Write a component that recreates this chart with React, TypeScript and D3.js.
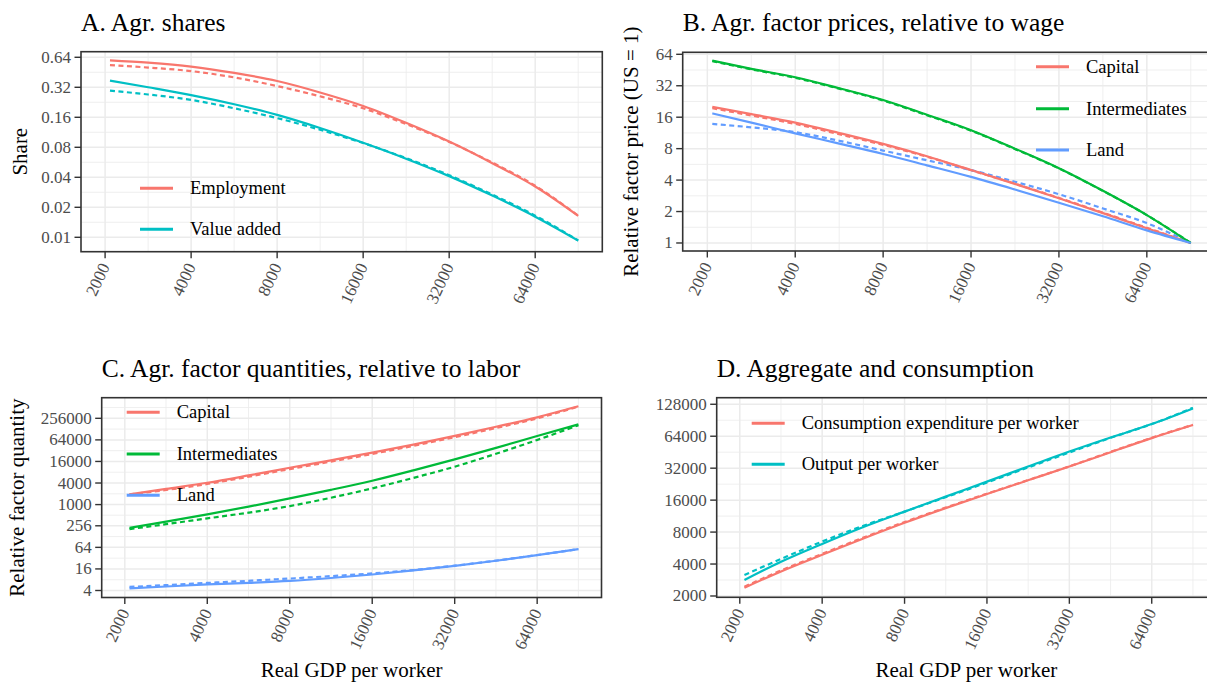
import React from 'react';
import * as d3 from 'd3';

// real GDP per worker (x positions shared by every panel)
const gdp = [2080, 2830, 4000, 5660, 8000, 11300, 16000, 22600, 32000, 45300, 64000, 90500];

// A. Agr. shares
const employment = [0.597, 0.565, 0.516, 0.446, 0.370, 0.284, 0.208, 0.141, 0.0913, 0.0554, 0.0323, 0.0164];
const employmentDot = [0.534, 0.505, 0.465, 0.402, 0.329, 0.260, 0.197, 0.137, 0.0906, 0.0562, 0.0329, 0.0165];
const valueAdded = [0.373, 0.320, 0.267, 0.216, 0.169, 0.125, 0.0888, 0.0615, 0.0411, 0.0262, 0.0161, 0.00927];
const valueAddedDot = [0.296, 0.271, 0.239, 0.197, 0.157, 0.120, 0.0882, 0.0623, 0.0420, 0.0268, 0.0165, 0.0093];

// B. factor prices relative to wage
const priceCapital = [20.1, 17.1, 14.2, 11.3, 8.88, 6.77, 4.99, 3.68, 2.68, 1.93, 1.385, 1.0];
const priceCapitalDot = [19.5, 16.6, 13.8, 11.0, 8.70, 6.70, 4.97, 3.70, 2.70, 1.95, 1.40, 1.0];
const priceInter = [55.7, 46.5, 38.6, 30.3, 23.4, 16.9, 12.0, 8.0, 5.2, 3.16, 1.85, 1.0];
const priceInterDot = [55.0, 46.0, 38.1, 30.0, 23.1, 16.7, 11.9, 7.95, 5.17, 3.15, 1.85, 1.0];
const priceLand = [17.4, 14.2, 11.2, 8.94, 7.11, 5.54, 4.29, 3.25, 2.43, 1.80, 1.32, 1.0];
const priceLandDot = [13.8, 12.8, 11.5, 9.51, 7.67, 6.19, 4.99, 3.86, 2.93, 2.14, 1.55, 1.0];

// C. factor quantities relative to labor
const qtyCapital = [1924, 2740, 4068, 6515, 10660, 17190, 28140, 47300, 82400, 148500, 273000, 554000];
const qtyCapitalDot = [1924, 2560, 3760, 6000, 9800, 15800, 25900, 43600, 76000, 137000, 255000, 545000];
const qtyInter = [224, 333, 534, 879, 1489, 2574, 4640, 9030, 18300, 38200, 82400, 174000];
const qtyInterDot = [206, 284, 413, 596, 910, 1552, 2837, 5557, 11420, 26250, 63700, 163500];
const qtyLand = [4.56, 5.17, 5.90, 6.54, 7.41, 8.94, 11.2, 14.5, 19.4, 27.1, 38.9, 56.9];
const qtyLandDot = [5.03, 5.66, 6.50, 7.46, 8.63, 10.06, 11.96, 14.9, 19.7, 27.3, 39.1, 57.3];

// D. aggregate and consumption
const consumption = [2395, 3410, 4890, 6960, 9780, 13450, 18250, 24590, 33130, 45250, 61400, 81560];
const consumptionDot = [2450, 3480, 4990, 7100, 9950, 13600, 18400, 24700, 33300, 45600, 61900, 82000];
const output = [2828, 4200, 6190, 8940, 12470, 17270, 23920, 33130, 45880, 62240, 83280, 116980];
const outputDot = [3160, 4470, 6520, 9180, 12470, 17030, 23420, 32450, 44940, 61800, 83300, 118600];

// axes
const xTicks = [2000, 4000, 8000, 16000, 32000, 64000];
const xTickLabels = ['2000', '4000', '8000', '16000', '32000', '64000'];
const shareTicks = [0.01, 0.02, 0.04, 0.08, 0.16, 0.32, 0.64];
const shareTickLabels = ['0.01', '0.02', '0.04', '0.08', '0.16', '0.32', '0.64'];
const priceTicks = [1, 2, 4, 8, 16, 32, 64];
const priceTickLabels = ['1', '2', '4', '8', '16', '32', '64'];
const qtyTicks = [4, 16, 64, 256, 1000, 4000, 16000, 64000, 256000];
const qtyTickLabels = ['4', '16', '64', '256', '1000', '4000', '16000', '64000', '256000'];
const aggTicks = [2000, 4000, 8000, 16000, 32000, 64000, 128000];
const aggTickLabels = ['2000', '4000', '8000', '16000', '32000', '64000', '128000'];

const RED = '#F8766D';
const TEAL = '#00BFC4';
const GREEN = '#00BA38';
const BLUE = '#619CFF';
const FONT = '"Liberation Serif", "Times New Roman", serif';
const xDomain: [number, number] = [1647, 109900];

interface Series { values: number[]; color: string; dotted?: boolean }
interface LegendItem { label: string; color: string }

// minor breaks halfway between majors on the log scale
function minorBreaks(majors: number[], domain: [number, number]) {
  const out: number[] = [];
  const n = majors.length;
  out.push(majors[0] / Math.sqrt(majors[1] / majors[0]));
  for (let i = 0; i < n - 1; i++) out.push(Math.sqrt(majors[i] * majors[i + 1]));
  out.push(majors[n - 1] * Math.sqrt(majors[n - 1] / majors[n - 2]));
  return out.filter((v) => v > domain[0] && v < domain[1]);
}

interface PanelProps {
  title: string;
  left: number; right: number; top: number; bottom: number;
  yDomain: [number, number];
  yTicks: number[]; yTickLabels: string[];
  yTitle?: string; yTitleX?: number;
  xTitle?: string;
  series: Series[];
  legend: LegendItem[];
  legendX: number; legendYs: number[];
}

const Panel = (p: PanelProps) => {
  const x = d3.scaleLog().domain(xDomain).range([p.left, p.right]);
  const y = d3.scaleLog().domain(p.yDomain).range([p.bottom, p.top]);
  const line = d3
    .line<number>()
    .x((_, i) => x(gdp[i]))
    .y((d) => y(d))
    .curve(d3.curveMonotoneX);
  const xMinor = minorBreaks(xTicks, xDomain);
  const yMinor = minorBreaks(p.yTicks, p.yDomain);
  const tickLen = 6.5;
  const cx = (p.left + p.right) / 2;
  const cy = (p.top + p.bottom) / 2;

  return (
    <g>
      <text x={p.left} y={p.top - 21} fontFamily={FONT} fontSize={25.5} fill="#000">
        {p.title}
      </text>
      <rect x={p.left} y={p.top} width={p.right - p.left} height={p.bottom - p.top} fill="#fff" />
      {/* grid */}
      {xMinor.map((v) => (
        <line key={'xm' + v} x1={x(v)} x2={x(v)} y1={p.top} y2={p.bottom} stroke="#EBEBEB" strokeWidth={0.8} />
      ))}
      {yMinor.map((v) => (
        <line key={'ym' + v} x1={p.left} x2={p.right} y1={y(v)} y2={y(v)} stroke="#EBEBEB" strokeWidth={0.8} />
      ))}
      {xTicks.map((v) => (
        <line key={'xg' + v} x1={x(v)} x2={x(v)} y1={p.top} y2={p.bottom} stroke="#EBEBEB" strokeWidth={1.5} />
      ))}
      {p.yTicks.map((v) => (
        <line key={'yg' + v} x1={p.left} x2={p.right} y1={y(v)} y2={y(v)} stroke="#EBEBEB" strokeWidth={1.5} />
      ))}
      {/* series */}
      {p.series.map((s, i) => (
        <path
          key={'s' + i}
          d={line(s.values) || ''}
          fill="none"
          stroke={s.color}
          strokeWidth={2.2}
          strokeDasharray={s.dotted ? '5,3.5' : undefined}
        />
      ))}
      {/* legend */}
      {p.legend.map((l, i) => (
        <g key={'l' + i}>
          <line x1={p.legendX} x2={p.legendX + 33} y1={p.legendYs[i]} y2={p.legendYs[i]} stroke={l.color} strokeWidth={3} />
          <text x={p.legendX + 50} y={p.legendYs[i]} dominantBaseline="central" fontFamily={FONT} fontSize={18.5} fill="#000">
            {l.label}
          </text>
        </g>
      ))}
      <rect x={p.left} y={p.top} width={p.right - p.left} height={p.bottom - p.top} fill="none" stroke="#333" strokeWidth={1.6} />
      {/* y axis */}
      {p.yTicks.map((v, i) => (
        <g key={'yt' + v}>
          <line x1={p.left - tickLen} x2={p.left} y1={y(v)} y2={y(v)} stroke="#333" strokeWidth={1.4} />
          <text x={p.left - tickLen - 3.5} y={y(v)} textAnchor="end" dominantBaseline="central" fontFamily={FONT} fontSize={17} fill="#4D4D4D">
            {p.yTickLabels[i]}
          </text>
        </g>
      ))}
      {/* x axis */}
      {xTicks.map((v, i) => {
        const tx = x(v);
        const ty = p.bottom + tickLen + 6;
        return (
          <g key={'xt' + v}>
            <line x1={tx} x2={tx} y1={p.bottom} y2={p.bottom + tickLen} stroke="#333" strokeWidth={1.4} />
            <text
              x={tx}
              y={ty}
              transform={`rotate(-65,${tx},${ty})`}
              textAnchor="end"
              dominantBaseline="central"
              fontFamily={FONT}
              fontSize={17}
              fill="#4D4D4D"
            >
              {xTickLabels[i]}
            </text>
          </g>
        );
      })}
      {p.yTitle && (
        <text
          x={p.yTitleX}
          y={cy}
          transform={`rotate(-90,${p.yTitleX},${cy})`}
          textAnchor="middle"
          fontFamily={FONT}
          fontSize={21}
          fill="#000"
        >
          {p.yTitle}
        </text>
      )}
      {p.xTitle && (
        <text x={cx} y={677} textAnchor="middle" fontFamily={FONT} fontSize={21} fill="#000">
          {p.xTitle}
        </text>
      )}
    </g>
  );
};

const App = () => {
  return (
    <div style={{ position: 'absolute', left: 0, top: 0, width: 1207, height: 684, background: '#fff' }}>
      <svg width={1207} height={684} style={{ display: 'block' }}>
        <rect width={1207} height={684} fill="#fff" />
        <Panel
          title="A. Agr. shares"
          left={81} right={602.3} top={51.7} bottom={251.7}
          yDomain={[0.00717, 0.728]}
          yTicks={shareTicks} yTickLabels={shareTickLabels}
          yTitle="Share" yTitleX={27.5}
          series={[
            { values: employmentDot, color: RED, dotted: true },
            { values: valueAddedDot, color: TEAL, dotted: true },
            { values: employment, color: RED },
            { values: valueAdded, color: TEAL },
          ]}
          legend={[{ label: 'Employment', color: RED }, { label: 'Value added', color: TEAL }]}
          legendX={140} legendYs={[188.3, 229.3]}
        />
        <Panel
          title="B. Agr. factor prices, relative to wage"
          left={682.7} right={1215.4} top={52.3} bottom={251}
          yDomain={[0.838, 66.9]}
          yTicks={priceTicks} yTickLabels={priceTickLabels}
          yTitle="Relative factor price (US = 1)" yTitleX={638.5}
          series={[
            { values: priceCapitalDot, color: RED, dotted: true },
            { values: priceInterDot, color: GREEN, dotted: true },
            { values: priceLandDot, color: BLUE, dotted: true },
            { values: priceCapital, color: RED },
            { values: priceInter, color: GREEN },
            { values: priceLand, color: BLUE },
          ]}
          legend={[
            { label: 'Capital', color: RED },
            { label: 'Intermediates', color: GREEN },
            { label: 'Land', color: BLUE },
          ]}
          legendX={1036} legendYs={[66.7, 108.7, 150]}
        />
        <Panel
          title="C. Agr. factor quantities, relative to labor"
          left={101.7} right={601.5} top={397.7} bottom={597.5}
          yDomain={[2.55, 963000]}
          yTicks={qtyTicks} yTickLabels={qtyTickLabels}
          yTitle="Relative factor quantity" yTitleX={24}
          xTitle="Real GDP per worker"
          series={[
            { values: qtyCapitalDot, color: RED, dotted: true },
            { values: qtyInterDot, color: GREEN, dotted: true },
            { values: qtyLandDot, color: BLUE, dotted: true },
            { values: qtyCapital, color: RED },
            { values: qtyInter, color: GREEN },
            { values: qtyLand, color: BLUE },
          ]}
          legend={[
            { label: 'Capital', color: RED },
            { label: 'Intermediates', color: GREEN },
            { label: 'Land', color: BLUE },
          ]}
          legendX={126.7} legendYs={[412.3, 454, 495.3]}
        />
        <Panel
          title="D. Aggregate and consumption"
          left={716.7} right={1216} top={397.7} bottom={597.3}
          yDomain={[1944, 147600]}
          yTicks={aggTicks} yTickLabels={aggTickLabels}
          xTitle="Real GDP per worker"
          series={[
            { values: consumptionDot, color: RED, dotted: true },
            { values: outputDot, color: TEAL, dotted: true },
            { values: consumption, color: RED },
            { values: output, color: TEAL },
          ]}
          legend={[
            { label: 'Consumption expenditure per worker', color: RED },
            { label: 'Output per worker', color: TEAL },
          ]}
          legendX={751.7} legendYs={[423.3, 464.3]}
        />
      </svg>
    </div>
  );
};

export default App;
